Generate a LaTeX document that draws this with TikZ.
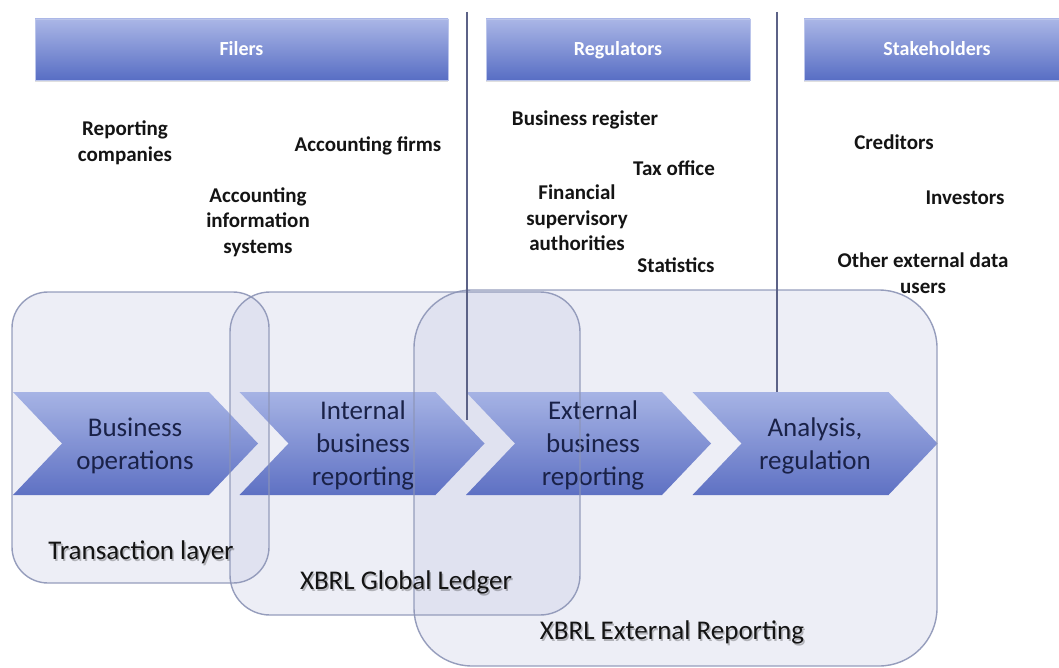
\documentclass[tikz,border=0pt]{standalone}
\usepackage{fontspec}
\setmainfont{Carlito}
\usetikzlibrary{shadows}

\definecolor{barTop}{RGB}{170,182,230}
\definecolor{barBot}{RGB}{88,110,196}
\definecolor{chevTop}{RGB}{162,176,228}
\definecolor{chevBot}{RGB}{84,104,192}
\definecolor{layerFill}{RGB}{190,195,225}
\definecolor{layerEdge}{RGB}{140,148,182}
\definecolor{sepLine}{RGB}{92,98,135}
\definecolor{chevText}{RGB}{26,34,72}
\definecolor{bodyText}{RGB}{20,20,20}

\tikzset{
  headbar/.style={rectangle, inner sep=0pt, top color=barTop, bottom color=barBot,
    draw=barTop!80!white, line width=0.6pt,
    drop shadow={shadow xshift=0pt, shadow yshift=-2.5pt, opacity=0.25},
    text=white, text height=13pt, text depth=0pt,
    font=\bfseries\fontsize{20}{24}\selectfont},
  party/.style={align=center, text=bodyText, inner sep=0pt,
    font=\bfseries\fontsize{21}{25.5}\selectfont},
  chevron/.style={top color=chevTop, bottom color=chevBot, opacity=0.93},
  chevlabel/.style={align=center, text=chevText, inner sep=0pt,
    font=\fontsize{27}{33}\selectfont},
  layerbg/.style={fill=layerFill, fill opacity=0.27},
  layeredge/.style={draw=layerEdge, line width=1.4pt, draw opacity=0.9},
  layerlabel/.style={text=bodyText, inner sep=0pt, font=\fontsize{27}{33}\selectfont},
  labelshadow/.style={text=black, text opacity=0.25, inner sep=0pt, font=\fontsize{27}{33}\selectfont},
  separator/.style={draw=sepLine, line width=1.1pt}
}

\begin{document}
\begin{tikzpicture}[x=1pt,y=-1pt]
\clip (0,0) rectangle (1059,668);
\fill[white] (0,0) rectangle (1059,668);

% role headers
\node[headbar, minimum width=413pt, minimum height=61pt] (filers) at (241.5,49.5) {Filers};
\node[headbar, minimum width=264pt, minimum height=61pt] (regulators) at (618,49.5) {Regulators};
\node[headbar, minimum width=266pt, minimum height=61pt] (stakeholders) at (937,49.5) {Stakeholders};

% parties under each header
\node[party] (repcomp) at (125,143) {Reporting\\companies};
\node[party] (accfirms) at (368,146) {Accounting firms};
\node[party] (ais) at (258,222) {Accounting\\information\\systems};
\node[party] (busreg) at (585,120) {Business register};
\node[party] (taxoff) at (674,168) {Tax office};
\node[party] (finsup) at (577,218) {Financial\\supervisory\\authorities};
\node[party] (stats) at (676,265) {Statistics};
\node[party] (creditors) at (894,142) {Creditors};
\node[party] (investors) at (965,198) {Investors};
\node[party] (otherusers) at (923,273) {Other external data\\users};

% standards layers: translucent fills
\path[layerbg, rounded corners=36pt] (12,292) rectangle (269,583);
\path[layerbg, rounded corners=40pt] (230,292) rectangle (580,615);
\path[layerbg, rounded corners=58pt] (414,290) rectangle (937,666);

% process chevrons
\foreach \x in {13,239.5,466,692.5}{
  \path[chevron] (\x,392) -- (\x+196,392) -- (\x+245,443.5) -- (\x+196,495)
    -- (\x,495) -- (\x+49,443.5) -- cycle;
}
\node[chevlabel] (ops) at (135,446) {Business\\operations};
\node[chevlabel] (internal) at (363,445) {Internal\\business\\reporting};
\node[chevlabel] (external) at (593,445) {External\\business\\reporting};
\node[chevlabel] (analysis) at (815,446) {Analysis,\\regulation};

% standards layers: outlines on top
\draw[layeredge, rounded corners=36pt] (12,292) rectangle (269,583);
\draw[layeredge, rounded corners=40pt] (230,292) rectangle (580,615);
\draw[layeredge, rounded corners=58pt] (414,290) rectangle (937,666);

\node[labelshadow] at (142.5,554) {Transaction layer};
\node[layerlabel] (txlayer) at (141,552) {Transaction layer};
\node[labelshadow] at (407.5,584) {XBRL Global Ledger};
\node[layerlabel] (gl) at (406,582) {XBRL Global Ledger};
\node[labelshadow] at (673.5,634) {XBRL External Reporting};
\node[layerlabel] (extrep) at (672,632) {XBRL External Reporting};

% separators between the role columns
\coordinate (sepAtop) at (467,12);
\coordinate (sepAbot) at (467,420);
\coordinate (sepBtop) at (777,12);
\coordinate (sepBbot) at (777,392);
\draw[separator] (sepAtop) -- (sepAbot);
\draw[separator] (sepBtop) -- (sepBbot);
\end{tikzpicture}
\end{document}
